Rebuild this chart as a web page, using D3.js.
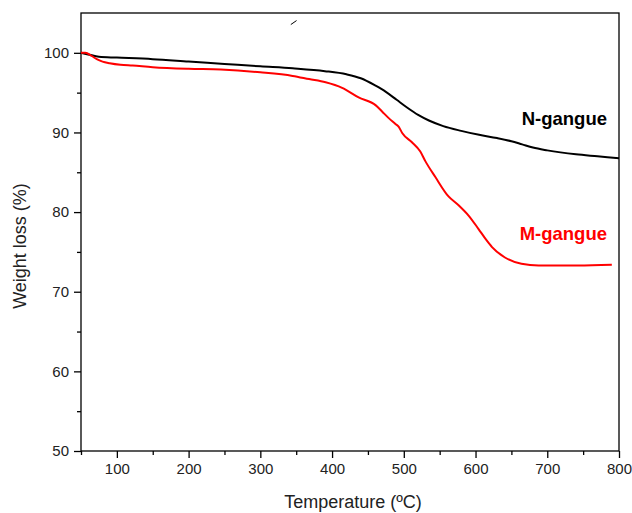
<!DOCTYPE html>
<html>
<head>
<meta charset="utf-8">
<script src="https://cdn.jsdelivr.net/npm/d3@7"></script>
<style>
    body { margin: 0; background: #fff; }
    svg { display: block; font-family: "Liberation Sans", Arial, sans-serif; }
</style>
</head>
<body>
<svg id="chart" width="632" height="513"></svg>
<script>
// N-gangue (black)
const nTemps = [50, 60, 75, 100, 150, 200, 250, 300, 345, 390, 420, 440, 460, 475, 490, 505, 520, 535, 555, 580, 605, 630, 650, 665, 680, 700, 740, 770, 800];
const nWeight = [100, 99.8, 99.5, 99.4, 99.2, 98.9, 98.6, 98.3, 98.05, 97.7, 97.3, 96.8, 95.9, 95.1, 94.1, 93.1, 92.2, 91.5, 90.8, 90.2, 89.7, 89.3, 88.9, 88.5, 88.1, 87.75, 87.25, 87.0, 86.75];

// M-gangue (red)
const mTemps = [50, 56, 65, 72, 80, 90, 105, 122, 150, 200, 245, 300, 345, 368, 391, 414, 437, 461, 470, 479, 488, 493, 498, 511, 523, 530, 544, 562, 576, 590, 604, 615, 623, 641, 664, 688, 743, 790];
const mWeight = [100, 100, 99.6, 99.2, 98.9, 98.7, 98.5, 98.4, 98.2, 98.0, 97.9, 97.55, 97.1, 96.7, 96.3, 95.6, 94.4, 93.4, 92.6, 91.8, 91.1, 90.7, 89.9, 88.8, 87.6, 86.4, 84.4, 82.0, 80.9, 79.6, 77.9, 76.5, 75.6, 74.3, 73.5, 73.3, 73.3, 73.4];

const xTicks = [100, 200, 300, 400, 500, 600, 700, 800];
const xMinor = [50, 150, 250, 350, 450, 550, 650, 750];
const yTicks = [50, 60, 70, 80, 90, 100];
const yMinor = [55, 65, 75, 85, 95];

// small stray stroke seen near the top of the plot
const strayT = [342.5, 350.5];
const strayW = [103.55, 104.05];

const svg = d3.select('#chart');
const margin = { left: 81, right: 13, top: 13, bottom: 62 };
const width = 632 - margin.left - margin.right;
const height = 513 - margin.top - margin.bottom;

const x = d3.scaleLinear().domain([50, 800]).range([0, width]);
const y = d3.scaleLinear().domain([50, 105]).range([height, 0]);

const g = svg.append('g').attr('transform', `translate(${margin.left},${margin.top})`);

// frame
g.append('rect')
    .attr('width', width).attr('height', height)
    .attr('fill', 'none').attr('stroke', '#000').attr('stroke-width', 1.3);

// x axis
g.append('g').attr('transform', `translate(0,${height})`)
    .call(d3.axisBottom(x).tickValues(xTicks).tickSize(7).tickPadding(5).tickFormat(d3.format('d')));
g.append('g').attr('transform', `translate(0,${height})`)
    .call(d3.axisBottom(x).tickValues(xMinor).tickSize(4).tickFormat(''));

// y axis
g.append('g')
    .call(d3.axisLeft(y).tickValues(yTicks).tickSize(7).tickPadding(5).tickFormat(d3.format('d')));
g.append('g')
    .call(d3.axisLeft(y).tickValues(yMinor).tickSize(4).tickFormat(''));

g.selectAll('.domain').remove();
g.selectAll('.tick line').attr('stroke', '#000').attr('stroke-width', 1.3);
g.selectAll('.tick text').attr('fill', '#222').style('font-size', '15px')
    .style('font-family', '"Liberation Sans", Arial, sans-serif');

// axis titles
svg.append('text')
    .attr('x', margin.left + width / 2 + 3).attr('y', 508)
    .attr('text-anchor', 'middle').attr('fill', '#222')
    .style('font-size', '18px')
    .text('Temperature (ºC)');

svg.append('text')
    .attr('transform', `translate(26,${margin.top + height / 2 + 14}) rotate(-90)`)
    .attr('text-anchor', 'middle').attr('fill', '#222')
    .style('font-size', '18px')
    .text('Weight loss (%)');

// curves
const line = d3.line()
    .x(d => x(d[0]))
    .y(d => y(d[1]))
    .curve(d3.curveMonotoneX);

const nData = nTemps.map((t, i) => [t, nWeight[i]]);
const mData = mTemps.map((t, i) => [t, mWeight[i]]);

g.append('path').datum(nData)
    .attr('d', line).attr('fill', 'none')
    .attr('stroke', '#000').attr('stroke-width', 2);

g.append('path').datum(mData)
    .attr('d', line).attr('fill', 'none')
    .attr('stroke', '#ff0000').attr('stroke-width', 2);

g.append('path').datum(strayT.map((t, i) => [t, strayW[i]]))
    .attr('d', d3.line().x(d => x(d[0])).y(d => y(d[1])))
    .attr('stroke', '#000').attr('stroke-width', 1);

// series labels
g.append('text')
    .attr('x', x(800) - 12).attr('y', y(90.9))
    .attr('text-anchor', 'end').attr('fill', '#000')
    .style('font-size', '18.5px').style('font-weight', 'bold')
    .text('N-gangue');

g.append('text')
    .attr('x', x(800) - 12).attr('y', y(76.5))
    .attr('text-anchor', 'end').attr('fill', '#ff0000')
    .style('font-size', '18.5px').style('font-weight', 'bold')
    .text('M-gangue');
</script>
</body>
</html>
